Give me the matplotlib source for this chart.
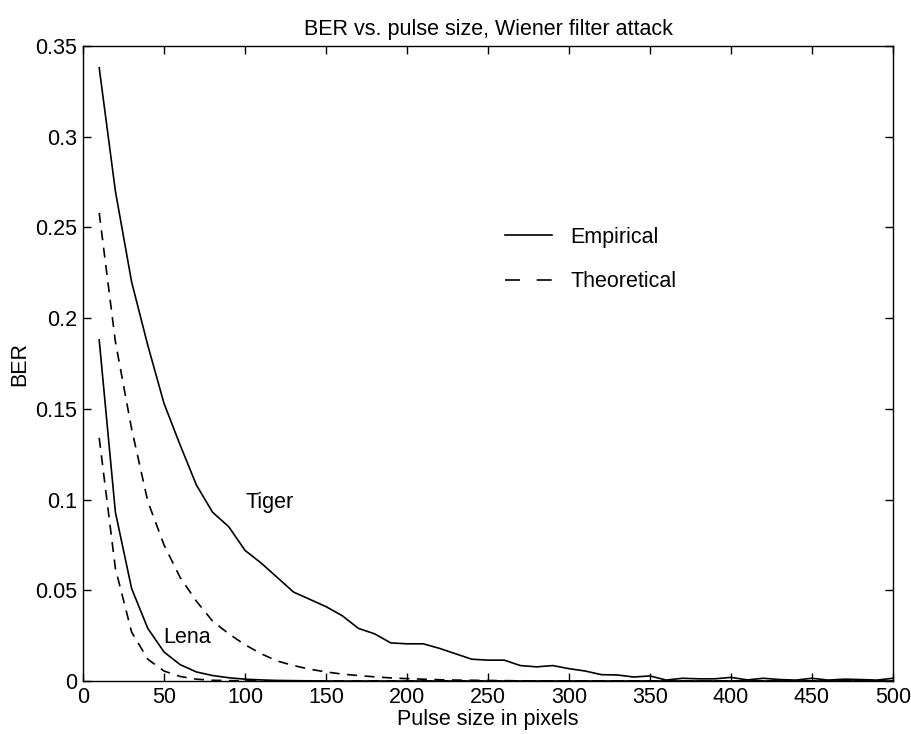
import numpy as np
import matplotlib
matplotlib.use("Agg")
import matplotlib.pyplot as plt

plt.rcParams['font.family'] = ['Liberation Sans', 'DejaVu Sans']

# pulse sizes in pixels
pulse = list(range(10, 510, 10))

tiger_emp = [0.338, 0.270, 0.220, 0.185, 0.153, 0.130, 0.108, 0.093, 0.085, 0.072,
             0.065, 0.057, 0.049, 0.045, 0.041, 0.036, 0.029, 0.026, 0.021, 0.0205,
             0.0205, 0.018, 0.015, 0.012, 0.0115, 0.0115, 0.0085, 0.0078, 0.0085, 0.0068,
             0.0055, 0.0035, 0.0033, 0.0022, 0.0028, 0.0005, 0.0015, 0.0012, 0.0012, 0.002,
             0.0006, 0.0015, 0.0008, 0.0005, 0.0015, 0.0005, 0.001, 0.0008, 0.0005, 0.0015]

tiger_theo = [0.258, 0.187, 0.139, 0.099, 0.075, 0.057, 0.044, 0.033, 0.026, 0.020,
              0.015, 0.011, 0.0085, 0.0065, 0.005, 0.0038, 0.003, 0.0023, 0.0017, 0.0013,
              0.001, 0.0007, 0.0005, 0.0004, 0.0003, 0.0002, 0.0001, 0.0001, 0.0, 0.0,
              0.0, 0.0, 0.0, 0.0, 0.0, 0.0, 0.0, 0.0, 0.0, 0.0,
              0.0, 0.0, 0.0, 0.0, 0.0, 0.0, 0.0, 0.0, 0.0, 0.0]

lena_emp = [0.188, 0.093, 0.051, 0.029, 0.016, 0.009, 0.005, 0.003, 0.0018, 0.001,
            0.0006, 0.0003, 0.0002, 0.0001, 0.0, 0.0, 0.0, 0.0, 0.0, 0.0,
            0.0, 0.0, 0.0, 0.0, 0.0, 0.0, 0.0, 0.0, 0.0, 0.0,
            0.0, 0.0, 0.0, 0.0, 0.0, 0.0, 0.0, 0.0, 0.0, 0.0,
            0.0, 0.0, 0.0, 0.0, 0.0, 0.0, 0.0, 0.0, 0.0, 0.0]

lena_theo = [0.134, 0.062, 0.027, 0.012, 0.0055, 0.0025, 0.001, 0.0004, 0.0002, 0.0001,
             0.0, 0.0, 0.0, 0.0, 0.0, 0.0, 0.0, 0.0, 0.0, 0.0,
             0.0, 0.0, 0.0, 0.0, 0.0, 0.0, 0.0, 0.0, 0.0, 0.0,
             0.0, 0.0, 0.0, 0.0, 0.0, 0.0, 0.0, 0.0, 0.0, 0.0,
             0.0, 0.0, 0.0, 0.0, 0.0, 0.0, 0.0, 0.0, 0.0, 0.0]

xticks = [0, 50, 100, 150, 200, 250, 300, 350, 400, 450, 500]
yticks = [0, 0.05, 0.1, 0.15, 0.2, 0.25, 0.3, 0.35]
ytick_labels = ['0', '0.05', '0.1', '0.15', '0.2', '0.25', '0.3', '0.35']

fs = 15.5

fig = plt.figure(figsize=(9.12, 7.34), dpi=100)
ax = fig.add_axes([83 / 912, 1 - 681 / 734, 810 / 912, 635 / 734])

dash = (0, (6, 4.5))
ax.plot(pulse, tiger_emp, color='k', lw=1.2, label='Empirical')
ax.plot(pulse, tiger_theo, color='k', lw=1.2, linestyle=dash, label='Theoretical')
ax.plot(pulse, lena_emp, color='k', lw=1.2)
ax.plot(pulse, lena_theo, color='k', lw=1.2, linestyle=dash)

ax.text(115, 0.0985, 'Tiger', fontsize=fs, ha='center', va='center')
ax.text(64, 0.024, 'Lena', fontsize=fs, ha='center', va='center')

ax.set_xlim(0, 500)
ax.set_ylim(0, 0.35)
ax.set_xticks(xticks)
ax.set_yticks(yticks)
ax.set_yticklabels(ytick_labels)
ax.tick_params(direction='in', length=6, width=1, top=True, right=True,
               labelsize=fs, pad=4)
for s in ax.spines.values():
    s.set_linewidth(1)

ax.set_title('BER vs. pulse size, Wiener filter attack', fontsize=fs, pad=8)
ax.set_xlabel('Pulse size in pixels', fontsize=fs, labelpad=1)
ax.set_ylabel('BER', fontsize=fs, labelpad=4)

leg_lines = ax.get_lines()[:2]
leg = ax.legend(handles=leg_lines, loc='center left',
                bbox_to_anchor=(505 / 912, 1 - 259.5 / 734),
                bbox_transform=fig.transFigure, frameon=False, fontsize=fs,
                handlelength=2.2, handletextpad=0.84, labelspacing=1.1,
                borderpad=0, borderaxespad=0)
leg.get_lines()[1].set_linestyle((0, (9, 10)))

fig.savefig('out.png', dpi=100)
